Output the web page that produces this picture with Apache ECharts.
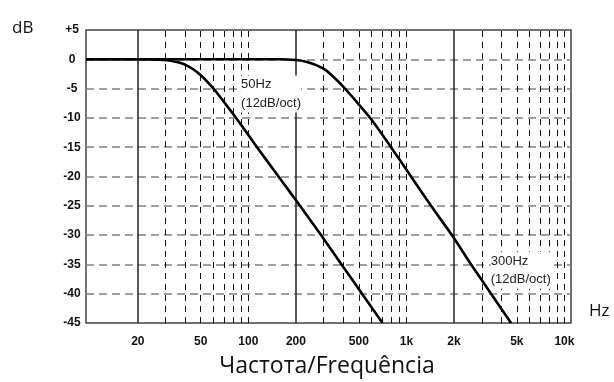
<!DOCTYPE html>
<html>
<head>
<meta charset="utf-8">
<script src="https://cdn.jsdelivr.net/npm/echarts@6/dist/echarts.min.js"></script>
<style>html,body{margin:0;padding:0;background:#fff}#c{width:614px;height:382px}</style>
</head>
<body>
<div id="c"></div>
<script>
// ---- data ----
const freq50 = [9.4, 20, 29, 32.9, 37, 41.5, 46.7, 52.4, 59.5, 66.2, 74.4, 84.2, 113.5, 155.2, 212.3, 288.4, 388.7, 524, 706.7];
const db50   = [0, 0, -0.1, -0.28, -0.6, -1.16, -2.04, -3.24, -4.85, -6.38, -8.18, -10.1, -15, -20, -25, -30, -35, -40, -45];
const freq300 = [9.4, 159, 178.2, 206.2, 231.8, 257.8, 284.1, 310.1, 338.3, 369.3, 409.1, 453.1, 509, 597.5, 799.5, 1070, 1432, 1940, 2566, 3433, 4595];
const db300   = [0, 0, -0.03, -0.15, -0.4, -0.8, -1.3, -1.9, -2.75, -3.75, -5.0, -6.35, -7.95, -10.2, -15, -20, -25, -30, -35, -40, -45];
const majorLines = [20, 200, 2000];
const minorLines = [30, 40, 50, 60, 70, 80, 90, 100, 300, 400, 500, 600, 700, 800, 900, 1000,
                    3000, 4000, 5000, 6000, 7000, 8000, 9000, 10000];
const xTickLabels = [20, 50, 100, 200, 500, 1000, 2000, 5000, 10000];
const xLabelText = ['20', '50', '100', '200', '500', '1k', '2k', '5k', '10k'];
const label50 = {freq: 90, db: -5.94, text: '50Hz\n(12dB/oct)'};
const label300 = {freq: 3418, db: -36.0, text: '300Hz\n(12dB/oct)'};
const yMin = -45, yMax = 5, yStep = 5;
const xMin = 9.4, xMax = 11000;

const pair = (xs, ys) => xs.map((x, i) => [x, ys[i]]);

const lineItem = (f, solid) => {
  const idx = xTickLabels.indexOf(f);
  return [{
    coord: [f, yMin],
    lineStyle: solid ? {type: 'solid', color: '#222', width: 1.5}
                     : {type: [6, 5], color: '#111', width: 1},
    label: idx >= 0 ? {show: true, formatter: xLabelText[idx]} : {show: false}
  }, {coord: [f, yMax]}];
};
const gridLineData = majorLines.map(f => lineItem(f, true))
  .concat(minorLines.map(f => lineItem(f, false)));

const textLabel = (l) => ({
  coord: [l.freq, l.db],
  symbolSize: 0,
  label: {
    show: true, position: 'right', distance: 0, formatter: l.text,
    fontFamily: 'Liberation Sans', fontSize: 13, lineHeight: 18.5, color: '#222',
    backgroundColor: '#fff', align: 'left'
  }
});

const chart = echarts.init(document.getElementById('c'), null, {renderer: 'canvas'});
chart.setOption({
  animation: false,
  backgroundColor: '#fff',
  grid: {left: 86, right: 43, top: 30, bottom: 59, show: true, borderColor: '#444', borderWidth: 1.5, backgroundColor: 'transparent'},
  xAxis: {
    type: 'log', logBase: 10, min: xMin, max: xMax,
    axisLine: {show: false}, axisTick: {show: false}, axisLabel: {show: false},
    splitLine: {show: false}, minorSplitLine: {show: false}
  },
  yAxis: {
    type: 'value', min: yMin, max: yMax, interval: yStep,
    axisLine: {show: false}, axisTick: {show: false},
    axisLabel: {
      formatter: v => v > 0 ? '+' + v : String(v),
      fontFamily: 'Liberation Sans', fontWeight: 'bold', fontSize: 12, color: '#111',
      align: 'center', margin: 14
    },
    splitLine: {show: true, showMinLine: false, showMaxLine: false,
      lineStyle: {color: '#808080', width: 1.5, type: [8, 5]}}
  },
  graphic: [
    {type: 'text', left: 12, top: 20, style: {text: 'dB', fontFamily: 'Open Sans', fontSize: 17, fill: '#111'}},
    {type: 'text', left: 589, top: 303, style: {text: 'Hz', fontFamily: 'Open Sans', fontSize: 17, fill: '#111'}},
    {type: 'text', x: 327, y: 366, style: {text: 'Частота/Frequência', fontFamily: 'Open Sans', fontSize: 23, fill: '#111', textAlign: 'center', textVerticalAlign: 'middle'}}
  ],
  series: [
    {
      name: 'grid', type: 'line', data: [], z: 1, silent: true,
      markLine: {
        silent: true, symbol: ['none', 'none'], z: 1, animation: false,
        label: {position: 'start', distance: 13, fontFamily: 'Liberation Sans', fontWeight: 'bold', fontSize: 12, color: '#111'},
        data: gridLineData
      }
    },
    {
      name: '50Hz', type: 'line', data: pair(freq50, db50), z: 5,
      showSymbol: false, smooth: 0.2,
      lineStyle: {color: '#000', width: 2.6},
      markPoint: {symbol: 'circle', silent: true, data: [textLabel(label50)]}
    },
    {
      name: '300Hz', type: 'line', data: pair(freq300, db300), z: 5,
      showSymbol: false, smooth: 0.2,
      lineStyle: {color: '#000', width: 2.6},
      markPoint: {symbol: 'circle', silent: true, data: [textLabel(label300)]}
    }
  ]
});
</script>
</body>
</html>
